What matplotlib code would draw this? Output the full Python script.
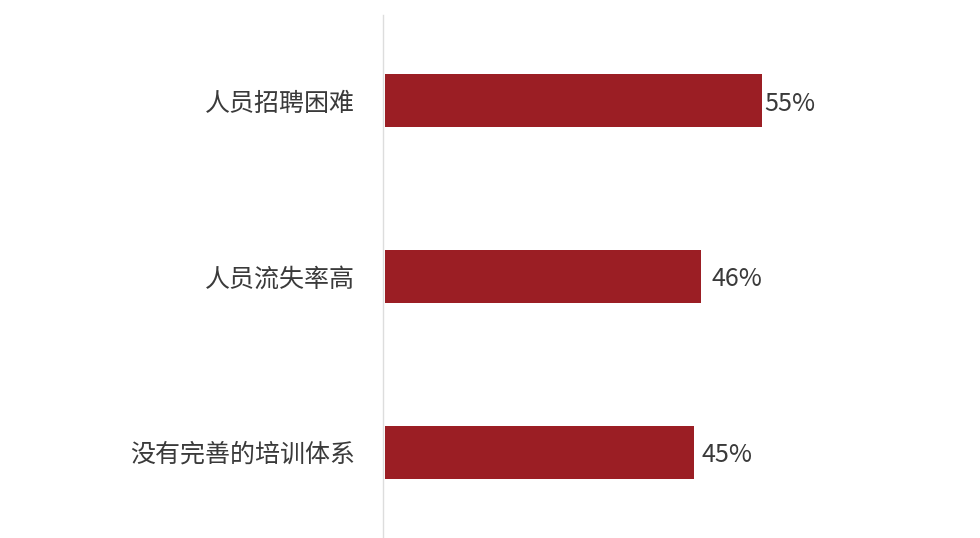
import matplotlib
matplotlib.use("Agg")
import matplotlib.pyplot as plt

categories = ["人员招聘困难", "人员流失率高", "没有完善的培训体系"]
values = [55, 46, 45]
value_labels = ["55%", "46%", "45%"]

plt.rcParams['font.family'] = ['Noto Sans CJK SC', 'DejaVu Sans']

fig = plt.figure(figsize=(9.8, 5.38), dpi=100)
fig.patch.set_facecolor('white')
ax = fig.add_axes([383/980, 0, (980-383)/980, 523/538])

ypos = list(range(len(categories)))
ax.barh(ypos, values, height=0.302, color='#9B1E24', left=0.3)
ax.set_xlim(0, 87)
ax.set_ylim(2.49, -0.49)
ax.set_yticks(ypos)
ax.set_yticklabels(categories, fontsize=18, color='#3a3a3a')
ax.tick_params(axis='y', length=0, pad=20)
ax.set_xticks([])
for s in ['top', 'right', 'bottom']:
    ax.spines[s].set_visible(False)
ax.spines['left'].set_color('#dddddd')
ax.spines['left'].set_linewidth(1.0)

pads_px = [2, 11, 8]
for y, v, lab, p in zip(ypos, values, value_labels, pads_px):
    ax.annotate(lab, xy=(v + 0.3, y), xytext=(p, -3), textcoords='offset pixels',
                va='center', ha='left', fontsize=18, color='#3a3a3a')

fig.savefig("out.png", dpi=100)
